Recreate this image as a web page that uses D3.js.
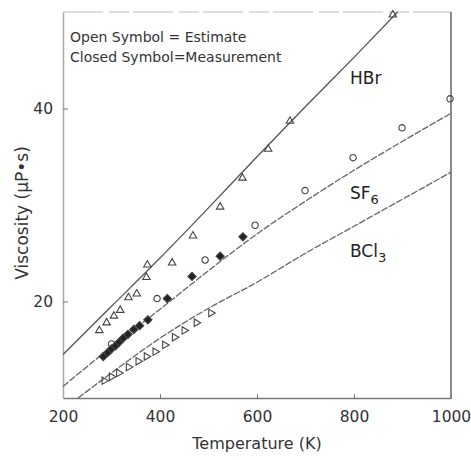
<!DOCTYPE html>
<html>
<head>
<meta charset="utf-8">
<script src="https://cdn.jsdelivr.net/npm/d3@7"></script>
<style>
  body { margin: 0; background: #fff; }
  svg { display: block; font-family: "DejaVu Sans", Verdana, sans-serif; }
</style>
</head>
<body>
<div id="chart"></div>
<script>
// axis ticks
const xTicks = [200, 400, 600, 800, 1000];
const yTicks = [20, 40];

// fitted curves [T (K), viscosity (µP·s)]
const hbrLine = [[200, 14.5], [300, 19.5], [400, 24.5], [500, 29.7], [600, 35.0], [700, 40.2], [800, 45.3], [890, 50]];
const sf6Line = [[200, 11.2], [300, 15.3], [400, 19.2], [500, 23.2], [600, 27.0], [700, 30.4], [800, 33.6], [900, 36.6], [1000, 39.5]];
const bcl3Line = [[231, 10], [300, 12.6], [400, 16.2], [500, 19.3], [600, 22.0], [700, 25.0], [800, 27.8], [900, 30.6], [1000, 33.4]];

// HBr estimates (open)
const hbrOpen = [[275, 17.0], [290, 17.8], [305, 18.5], [318, 19.1], [335, 20.4], [352, 20.8], [372, 22.5], [374, 23.8],
  [425, 24.0], [468, 26.8], [524, 29.8], [570, 32.8], [623, 35.8], [668, 38.7], [880, 49.7]];
// SF6 estimates (open) and measurements (closed)
const sf6Open = [[300, 15.6], [394, 20.3], [493, 24.3], [596, 27.9], [699, 31.5], [798, 34.9], [899, 38.0], [998, 41.0]];
const sf6Closed = [[283, 14.3], [292, 14.7], [300, 15.1], [308, 15.4], [316, 15.8], [324, 16.2], [334, 16.6],
  [346, 17.1], [358, 17.5], [375, 18.1], [415, 20.3], [466, 22.6], [524, 24.7], [571, 26.7]];
// BCl3 estimates (open)
const bcl3Open = [[285, 11.8], [300, 12.2], [315, 12.6], [335, 13.2], [355, 13.8], [372, 14.3], [390, 14.8],
  [410, 15.5], [430, 16.3], [450, 17.0], [475, 17.8], [505, 18.8]];

const width = 471, height = 460;
const margin = { top: 12, right: 20, bottom: 62, left: 63 };
const innerW = width - margin.left - margin.right;
const innerH = height - margin.top - margin.bottom;

const svg = d3.select("#chart").append("svg")
  .attr("width", width)
  .attr("height", height);

const x = d3.scaleLinear().domain([200, 1000]).range([0, innerW]);
const y = d3.scaleLinear().domain([10, 50]).range([innerH, 0]);

const g = svg.append("g").attr("transform", `translate(${margin.left},${margin.top})`);

// frame: faint top, grey left, darker right
g.append("line").attr("x1", 0).attr("x2", innerW).attr("y1", 0).attr("y2", 0)
  .attr("stroke", "#d4d4d4").attr("stroke-width", 1.5).attr("stroke-dasharray", "40 6 20 4");
g.append("line").attr("x1", innerW).attr("x2", innerW).attr("y1", 0).attr("y2", innerH)
  .attr("stroke", "#666").attr("stroke-width", 1.5);

// x axis
const xAxis = d3.axisBottom(x).tickValues(xTicks).tickFormat(d3.format("d"))
  .tickSize(-4).tickSizeOuter(0).tickPadding(13);
const gx = g.append("g").attr("transform", `translate(0,${innerH})`).call(xAxis);
gx.select(".domain").attr("stroke", "#777").attr("stroke-width", 1.5);
gx.selectAll(".tick line").attr("stroke", "#777");
gx.selectAll("text").attr("font-size", 15.5).attr("fill", "#333").attr("font-family", "DejaVu Sans");

// y axis
const yAxis = d3.axisLeft(y).tickValues(yTicks).tickSize(-5).tickSizeOuter(0).tickPadding(10);
const gy = g.append("g").call(yAxis);
gy.select(".domain").attr("stroke", "#aaa").attr("stroke-width", 1.5);
gy.selectAll(".tick line").attr("stroke", "#777");
gy.selectAll("text").attr("font-size", 15.5).attr("fill", "#333").attr("font-family", "DejaVu Sans");

// axis titles
svg.append("text")
  .attr("x", margin.left + innerW / 2)
  .attr("y", 449)
  .attr("text-anchor", "middle")
  .attr("font-size", 16)
  .attr("fill", "#333")
  .text("Temperature (K)");

svg.append("text")
  .attr("transform", "translate(28,213) rotate(-90)")
  .attr("text-anchor", "middle")
  .attr("font-size", 17)
  .attr("fill", "#333")
  .text("Viscosity (µP•s)");

// curves
const line = d3.line().x(d => x(d[0])).y(d => y(d[1])).curve(d3.curveMonotoneX);
g.append("path").datum(hbrLine).attr("d", line)
  .attr("fill", "none").attr("stroke", "#555").attr("stroke-width", 1.3);
g.append("path").datum(sf6Line).attr("d", line)
  .attr("fill", "none").attr("stroke", "#666").attr("stroke-width", 1.3).attr("stroke-dasharray", "7 1.5");
g.append("path").datum(bcl3Line).attr("d", line)
  .attr("fill", "none").attr("stroke", "#666").attr("stroke-width", 1.3).attr("stroke-dasharray", "7 1.5");

// symbols
const tri = d3.symbol().type(d3.symbolTriangle).size(24);
const circ = d3.symbol().type(d3.symbolCircle).size(32);
const sq = d3.symbol().type(d3.symbolSquare).size(34);

function drawSymbols(data, sym, filled, rot) {
  g.append("g").selectAll("path")
    .data(data)
    .join("path")
    .attr("d", sym)
    .attr("transform", d => `translate(${x(d[0])},${y(d[1])}) rotate(${rot})`)
    .attr("fill", filled ? "#222" : "none")
    .attr("stroke", "#444")
    .attr("stroke-width", 1.1);
}
drawSymbols(hbrOpen, tri, false, 0);
drawSymbols(bcl3Open, tri, false, 90);
drawSymbols(sf6Open, circ, false, 0);
drawSymbols(sf6Closed, sq, true, 45);

// legend note
const note = svg.append("text").attr("font-size", 14).attr("fill", "#333");
note.append("tspan").attr("x", 70).attr("y", 42).text("Open Symbol = Estimate");
note.append("tspan").attr("x", 70).attr("y", 62).text("Closed Symbol=Measurement");

// series labels
svg.append("text").attr("x", 350).attr("y", 84).attr("font-size", 17).attr("fill", "#222").text("HBr");

const sfLabel = svg.append("text").attr("x", 350).attr("y", 199).attr("font-size", 17).attr("fill", "#222");
sfLabel.append("tspan").text("SF");
sfLabel.append("tspan").attr("dy", 5).attr("font-size", 13).text("6");

const bcLabel = svg.append("text").attr("x", 350).attr("y", 257).attr("font-size", 17).attr("fill", "#222");
bcLabel.append("tspan").text("BCl");
bcLabel.append("tspan").attr("dy", 5).attr("font-size", 13).text("3");
</script>
</body>
</html>
